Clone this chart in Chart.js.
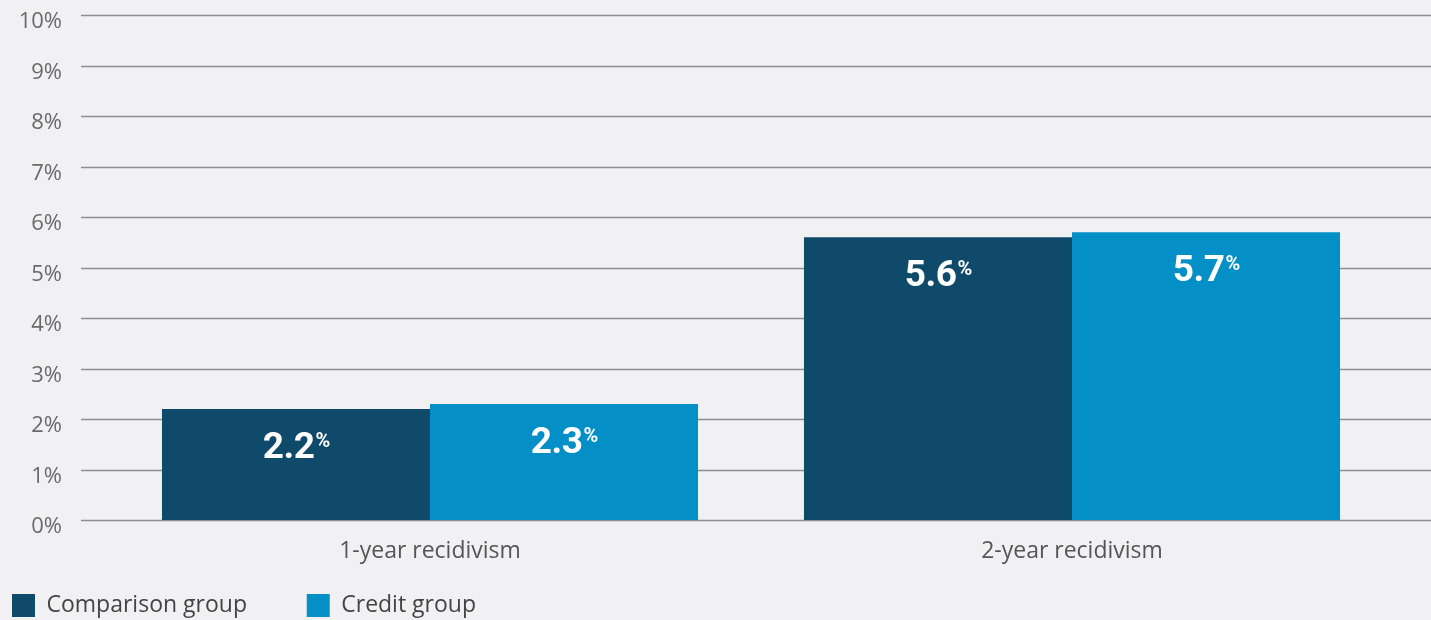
<!DOCTYPE html>
<html>
<head>
<meta charset="utf-8">
<script src="https://cdn.jsdelivr.net/npm/chart.js@4"></script>
<style>
  html, body { margin: 0; padding: 0; background: #f1f1f3; }
  #wrap { width: 1431px; height: 620px; position: relative; }
</style>
</head>
<body>
<div id="wrap"><canvas id="recidivismChart"></canvas></div>
<script>
// recidivism chart
const categories = ['1-year recidivism', '2-year recidivism'];
const seriesNames = ['Comparison group', 'Credit group'];
const comparisonValues = [2.2, 5.6];
const creditValues = [2.3, 5.7];
const yMin = 0;
const yMax = 10;
const yStep = 1;

const darkBlue = '#104a6a';
const lightBlue = '#058fc7';
const fontFace = '"Open Sans", "Noto Sans", sans-serif';

// grid lines run past the plot on both sides, like the original
const wideGrid = {
    id: 'wideGrid',
    beforeDatasetsDraw(chart) {
        const { ctx, chartArea, scales } = chart;
        ctx.save();
        ctx.strokeStyle = '#8e8e8e';
        ctx.lineWidth = 1.5;
        scales.y.ticks.forEach(t => {
            const y = Math.round(scales.y.getPixelForValue(t.value)) + 0.5;
            ctx.beginPath();
            ctx.moveTo(chartArea.left - 28, y);
            ctx.lineTo(chart.width, y);
            ctx.stroke();
        });
        ctx.restore();
    }
};

// value labels inside the bars: big number, small raised %
const barValues = {
    id: 'barValues',
    afterDatasetsDraw(chart) {
        const { ctx } = chart;
        ctx.save();
        ctx.fillStyle = '#ffffff';
        ctx.textBaseline = 'top';
        ctx.textAlign = 'left';
        chart.data.datasets.forEach((ds, i) => {
            chart.getDatasetMeta(i).data.forEach((bar, j) => {
                const num = ds.data[j].toFixed(1);
                ctx.font = 'bold 37px Roboto, sans-serif';
                ctx.letterSpacing = '-0.5px';
                const wNum = ctx.measureText(num).width;
                ctx.font = 'bold 20px Roboto, sans-serif';
                ctx.letterSpacing = '0px';
                const wPct = ctx.measureText('%').width;
                const x0 = bar.x - (wNum + wPct) / 2;
                const top = bar.y + 21;
                ctx.font = 'bold 37px Roboto, sans-serif';
                ctx.letterSpacing = '-0.5px';
                ctx.fillText(num, x0, top);
                ctx.font = 'bold 20px Roboto, sans-serif';
                ctx.letterSpacing = '0px';
                ctx.fillText('%', x0 + wNum + 1, top + 2);
            });
        });
        ctx.restore();
    }
};

const ctx = document.getElementById('recidivismChart').getContext('2d');
new Chart(ctx, {
    type: 'bar',
    data: {
        labels: categories,
        datasets: [
            {
                label: seriesNames[0],
                data: comparisonValues,
                backgroundColor: darkBlue,
                categoryPercentage: 0.835,
                barPercentage: 1.0
            },
            {
                label: seriesNames[1],
                data: creditValues,
                backgroundColor: lightBlue,
                categoryPercentage: 0.835,
                barPercentage: 1.0
            }
        ]
    },
    options: {
        responsive: true,
        maintainAspectRatio: false,
        animation: false,
        layout: { padding: { top: 15, right: 38, left: 0, bottom: -7 } },
        plugins: {
            tooltip: { enabled: false },
            legend: {
                position: 'bottom',
                align: 'start',
                labels: {
                    boxWidth: 23,
                    boxHeight: 23,
                    padding: 12,
                    color: '#444444',
                    font: { family: fontFace, size: 23 },
                    generateLabels(c) {
                        const items = Chart.defaults.plugins.legend.labels.generateLabels(c);
                        items[0].text = items[0].text + '        ';
                        return items;
                    }
                }
            }
        },
        scales: {
            x: {
                grid: { display: false, drawTicks: false },
                border: { display: false },
                ticks: {
                    color: '#555555',
                    padding: 18,
                    font: { family: fontFace, size: 23 }
                },
                afterFit(scale) { scale.height = 62; }
            },
            y: {
                min: yMin,
                max: yMax,
                grid: { display: false, drawTicks: true, tickLength: 45 },
                border: { display: false },
                ticks: {
                    stepSize: yStep,
                    padding: 2,
                    labelOffset: 7,
                    color: '#6a6a6a',
                    font: { family: fontFace, size: 22 },
                    callback: v => v + '%'
                },
                afterFit(scale) { scale.width = 109; }
            }
        }
    },
    plugins: [wideGrid, barValues]
});
</script>
</body>
</html>
